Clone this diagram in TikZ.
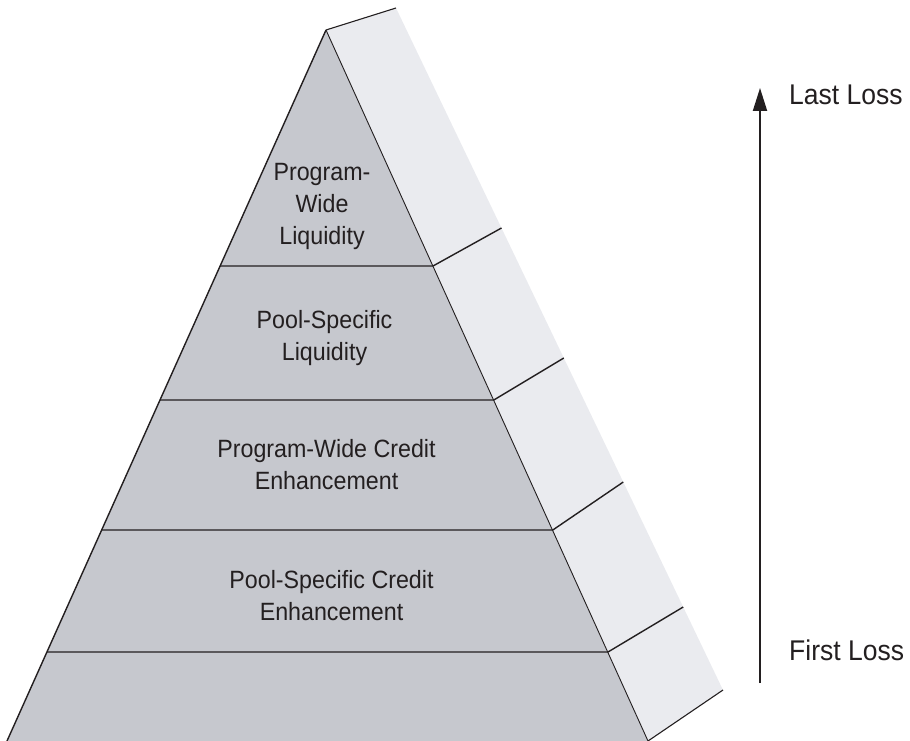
\documentclass[tikz,border=0pt]{standalone}
\usepackage{fontspec}
\setmainfont{Liberation Sans}[FakeStretch=0.93]
\usetikzlibrary{arrows.meta}
\definecolor{frontc}{HTML}{C6C8CE}
\definecolor{sidec}{HTML}{EAEBEF}
\definecolor{inkc}{HTML}{231F20}
\tikzset{
  lbl/.style={text=inkc, inner sep=0pt, align=center, font=\fontsize{25}{32}\selectfont},
  sidelbl/.style={text=inkc, inner sep=0pt, anchor=base west, font=\fontsize{28.5}{32}\selectfont},
  edge/.style={draw=inkc, line width=1.1pt},
  divider/.style={draw=inkc, line width=1.4pt},
}
\begin{document}
\begin{tikzpicture}[x=1pt,y=-1pt]
\useasboundingbox (0,0) rectangle (910,741);
% corners
\coordinate (A) at (326,30);
\coordinate (BL) at (7,741);
\coordinate (BR) at (648,741);
\coordinate (TR) at (396,8);
\coordinate (SR) at (723,690);
% faces
\fill[sidec] (A) -- (TR) -- (SR) -- (BR) -- cycle;
\fill[frontc] (BL) -- (A) -- (BR) -- cycle;
% divider points
\coordinate (L1) at (220,266);   \coordinate (R1) at (433,266);   \coordinate (S1) at (501.5,228);
\coordinate (L2) at (160,400);   \coordinate (R2) at (493.8,400); \coordinate (S2) at (563.8,358);
\coordinate (L3) at (101.6,530); \coordinate (R3) at (552.8,530); \coordinate (S3) at (623.3,482);
\coordinate (L4) at (46.8,652);  \coordinate (R4) at (608,652);   \coordinate (S4) at (683.2,607);
% edges
\draw[edge, line width=1.4pt] (BL) -- (A);
\draw[edge, line width=0.9pt] (A) -- (BR);
\draw[edge] (A) -- (TR);
\draw[edge] (BR) -- (SR);
\draw[divider] (L1) -- (R1) -- (S1);
\draw[divider] (L2) -- (R2) -- (S2);
\draw[divider] (L3) -- (R3) -- (S3);
\draw[divider] (L4) -- (R4) -- (S4);
% labels
\node[lbl] (t1) at (322,206) {Program-\\Wide\\Liquidity};
\node[lbl] (t2) at (324.5,338) {Pool-Specific\\Liquidity};
\node[lbl] (t3) at (326.5,465) {Program-Wide Credit\\Enhancement};
\node[lbl] (t4) at (331.5,596) {Pool-Specific Credit\\Enhancement};
% loss arrow
\coordinate (ab) at (760,683);
\coordinate (at) at (760,88);
\draw[draw=inkc, line width=2pt, -{Triangle[length=23pt,width=14pt]}] (ab) -- (at);
\node[sidelbl] (ll) at (789,105) {Last Loss};
\node[sidelbl] (fl) at (789,660) {First Loss};
\end{tikzpicture}
\end{document}
